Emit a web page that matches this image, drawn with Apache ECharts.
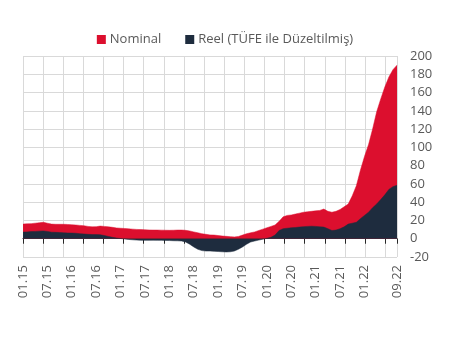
<!DOCTYPE html>
<html>
<head>
<meta charset="utf-8">
<script src="https://cdn.jsdelivr.net/npm/echarts@6/dist/echarts.min.js"></script>
<style>
html,body{margin:0;padding:0;background:#fff;}
#chart{width:450px;height:345px;}
</style>
</head>
<body>
<div id="chart"></div>
<script>
const categories = [
 "01.15","02.15","03.15","04.15","05.15","06.15","07.15","08.15","09.15","10.15","11.15","12.15",
 "01.16","02.16","03.16","04.16","05.16","06.16","07.16","08.16","09.16","10.16","11.16","12.16",
 "01.17","02.17","03.17","04.17","05.17","06.17","07.17","08.17","09.17","10.17","11.17","12.17",
 "01.18","02.18","03.18","04.18","05.18","06.18","07.18","08.18","09.18","10.18","11.18","12.18",
 "01.19","02.19","03.19","04.19","05.19","06.19","07.19","08.19","09.19","10.19","11.19","12.19",
 "01.20","02.20","03.20","04.20","05.20","06.20","07.20","08.20","09.20","10.20","11.20","12.20",
 "01.21","02.21","03.21","04.21","05.21","06.21","07.21","08.21","09.21","10.21","11.21","12.21",
 "01.22","02.22","03.22","04.22","05.22","06.22","07.22","08.22","09.22"
];
const shownLabels = ["01.15","07.15","01.16","07.16","01.17","07.17","01.18","07.18","01.19","07.19","01.20","07.20","01.21","07.21","01.22","09.22"];
const seriesNames = ["Nominal", "Reel (TÜFE ile Düzeltilmiş)"];
const nominal = [
 16,16.3,16.5,17,17.5,18,17,16,15.8,15.8,15.8,15.6,
 15.3,15,14.6,14.2,13.5,13,13.2,13.8,13.5,13,12.5,11.8,
 11.5,11.2,10.8,10.5,10.2,10,9.8,9.6,9.5,9.5,9.4,9.3,
 9.2,9.3,9.5,9.5,9.2,8.5,7.5,6.5,5.5,4.8,4.2,4,
 3.5,3,2.6,2.3,2,2.5,4,5.5,6.5,7.5,9,10.5,
 12,13.5,15,19,24,25.5,26,27,28,29,29.5,30,
 30.5,31,32.5,30,29,30,32,35,38,47,58,75,
 90,103,120,139,153,166,177,185,190
];
const reel = [
 7.3,7.5,7.8,8,8.3,8.5,8,7.2,7,6.8,6.5,6.3,
 6.2,6,5.5,5.2,4.8,4.6,4.5,4.4,3.5,2.5,1.5,0.8,
 0.2,-0.3,-0.8,-1.2,-1.5,-1.8,-1.8,-1.8,-1.7,-1.8,-1.8,-1.9,
 -2,-2.2,-2.3,-2.5,-3.6,-6,-9,-11.6,-13,-13.5,-13.5,-13.8,
 -14,-14.3,-14.5,-14.3,-13.5,-11.5,-9,-6,-3.6,-2.5,-1.5,-0.5,
 0.5,1.5,4,9,11,11.5,12,12.3,12.8,13.2,13.5,13.7,
 13.5,13,12.7,11,9,9.5,11,13,16,17,18,22,
 25.5,29,34,38,43,48,54,57,58.5
];
const yMin = -20, yMax = 200, yStep = 20;

const font = "'Open Sans', sans-serif";
const textColor = '#595959';
const gridColor = '#d9d9d9';

const chart = echarts.init(document.getElementById('chart'), null, {renderer: 'canvas'});
chart.setOption({
  animation: false,
  backgroundColor: '#ffffff',
  legend: {
    top: 28,
    left: 'center',
    itemWidth: 9,
    itemHeight: 9,
    itemGap: 24,
    icon: 'rect',
    textStyle: {color: textColor, fontSize: 13, fontFamily: font, padding: [0,0,0,-1]},
    data: seriesNames
  },
  grid: {left: 23, right: 53, top: 56, bottom: 88, containLabel: false},
  xAxis: [
    {
      type: 'category',
      data: categories,
      boundaryGap: false,
      position: 'bottom',
      axisLine: {show: false, onZero: false},
      axisTick: {show: false},
      splitLine: {show: false},
      axisLabel: {
        rotate: 90,
        margin: 8,
        color: textColor,
        fontSize: 13,
        fontFamily: font,
        interval: function (index, value) { return shownLabels.indexOf(value) >= 0; }
      }
    },
    {
      type: 'value',
      min: 0,
      max: 92,
      interval: 4.95,
      position: 'bottom',
      axisLine: {show: true, onZero: true, lineStyle: {color: '#262626', width: 1}},
      axisTick: {show: true, length: 5, lineStyle: {color: '#262626', width: 1}},
      axisLabel: {show: false},
      splitLine: {show: true, lineStyle: {color: gridColor, width: 1}}
    }
  ],
  yAxis: {
    type: 'value',
    position: 'right',
    min: yMin,
    max: yMax,
    interval: yStep,
    axisLine: {show: false},
    axisTick: {show: false},
    axisLabel: {color: textColor, fontSize: 13, fontFamily: font, margin: 13, align: 'left'},
    splitLine: {show: true, lineStyle: {color: gridColor, width: 1}}
  },
  series: [
    {
      name: seriesNames[0],
      type: 'line',
      xAxisIndex: 0,
      data: nominal,
      symbol: 'none',
      itemStyle: {color: '#DC0F2E'},
      lineStyle: {width: 0.5, color: '#DC0F2E'},
      areaStyle: {color: '#DC0F2E', opacity: 1},
      z: 2
    },
    {
      name: seriesNames[1],
      type: 'line',
      xAxisIndex: 0,
      data: reel,
      symbol: 'none',
      itemStyle: {color: '#1E2C3E'},
      lineStyle: {width: 0.5, color: '#1E2C3E'},
      areaStyle: {color: '#1E2C3E', opacity: 1},
      z: 3
    }
  ]
});
</script>
</body>
</html>
